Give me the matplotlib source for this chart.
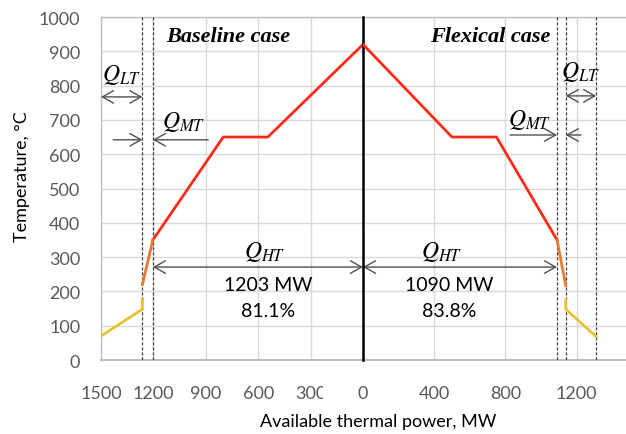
import matplotlib
matplotlib.use('Agg')
import matplotlib.pyplot as plt
from matplotlib.transforms import Bbox

plt.rcParams['font.family'] = ['Lato', 'DejaVu Sans']
plt.rcParams['mathtext.fontset'] = 'stix'

# temperature (degC) over available thermal power (MW)
base_ht_p = [0, 545, 800, 1203]
base_ht_t = [920, 650, 650, 350]
base_mt_p = [1203, 1263]
base_mt_t = [350, 220]
base_lt_p = [1263, 1263, 1500]
base_lt_t = [175, 148, 70]

flex_ht_p = [0, 500, 750, 1090]
flex_ht_t = [920, 650, 650, 350]
flex_mt_p = [1090, 1139]
flex_mt_t = [350, 217]
flex_lt_p = [1139, 1139, 1310]
flex_lt_t = [175, 148, 68]

# borders between the heat ranges
base_marks = [1203, 1263]
flex_marks = [1090, 1139, 1310]

left_ticks = [1500, 1200, 900, 600, 300]
right_ticks = [0, 400, 800, 1200]
temp_ticks = list(range(0, 1001, 100))

base_text = ['1203 MW', '81.1%']
flex_text = ['1090 MW', '83.8%']

RED = '#FF2A1A'
ORANGE = '#E8792F'
YELLOW = '#E8C230'
GRID = '#D9D9D9'
BORDER = '#BFBFBF'
TICK = '#595959'
ARROW = '#505050'

fig = plt.figure(figsize=(6.26, 4.35), dpi=100)
ax_l = fig.add_axes([101 / 626, 1 - 361 / 435, 262 / 626, 343 / 435])
ax_r = fig.add_axes([363 / 626, 1 - 361 / 435, 267 / 626, 343 / 435], sharey=ax_l)

ax_l.set_xlim(1500, 0)
ax_r.set_xlim(0, 1500)
ax_l.set_ylim(0, 1000)

for ax, ticks in ((ax_l, left_ticks), (ax_r, right_ticks)):
    ax.set_xticks(ticks)
    ax.set_yticks(temp_ticks)
    ax.grid(color=GRID, lw=1)
    ax.set_axisbelow(True)
    ax.tick_params(length=0, labelcolor=TICK, labelsize=13)
    ax.tick_params(axis='x', pad=18)
    ax.tick_params(axis='y', pad=15)
    for s in ax.spines.values():
        s.set_color(BORDER)
        s.set_linewidth(1)
    ax.spines['bottom'].set_linewidth(1.5)

ax_l.spines['right'].set_visible(False)
ax_r.spines['left'].set_visible(False)
ax_r.tick_params(axis='y', labelleft=False)

# "300" is partly covered by the "0" label in the original
for lbl in ax_l.get_xticklabels():
    if lbl.get_text() == '300':
        lbl.set_clip_on(True)
        lbl.set_clip_box(Bbox.from_extents(0, 0, 323, 435))

# zero line between the two cases (right axes is drawn on top)
ax_r.axvline(0, color='black', lw=1.8, clip_on=False, zorder=4)

for p in base_marks:
    ax_l.axvline(p, color='#404040', lw=0.9, ls=(0, (2.5, 1.5)), zorder=3)
for p in flex_marks:
    ax_r.axvline(p, color='#404040', lw=0.9, ls=(0, (2.5, 1.5)), zorder=3)

ax_l.plot(base_ht_p, base_ht_t, color=RED, lw=2, zorder=5)
ax_l.plot(base_mt_p, base_mt_t, color=ORANGE, lw=2, zorder=5)
ax_l.plot(base_lt_p, base_lt_t, color=YELLOW, lw=2, zorder=5)
ax_r.plot(flex_ht_p, flex_ht_t, color=RED, lw=2, zorder=5)
ax_r.plot(flex_mt_p, flex_mt_t, color=ORANGE, lw=2, zorder=5)
ax_r.plot(flex_lt_p, flex_lt_t, color=YELLOW, lw=2, zorder=5)


def arrow(ax, x0, x1, y, style='<->'):
    ax.annotate('', xy=(x1, y), xytext=(x0, y), annotation_clip=False,
                arrowprops=dict(arrowstyle=style + ',head_length=0.8,head_width=0.45',
                                color=ARROW, lw=1, shrinkA=0, shrinkB=0))


arrow(ax_l, 1263, 1500, 767)
arrow(ax_l, 1430, 1263, 642, '->')
arrow(ax_l, 886, 1203, 642, '->')
arrow(ax_l, 1203, 0, 271)
arrow(ax_r, 0, 1090, 271)
arrow(ax_r, 826, 1090, 656, '->')
arrow(ax_r, 1225, 1139, 656, '->')
arrow(ax_r, 1139, 1310, 770)

q_style = dict(fontsize=17, ha='center', va='center')
ax_l.text(1383, 834, r'$Q_{LT}$', **q_style)
ax_l.text(1028, 697, r'$Q_{MT}$', **q_style)
ax_l.text(560, 318, r'$Q_{HT}$', **q_style)
ax_r.text(1219, 843, r'$Q_{LT}$', **q_style)
ax_r.text(938, 703, r'$Q_{MT}$', **q_style)
ax_r.text(444, 318, r'$Q_{HT}$', **q_style)

num_style = dict(fontsize=14, ha='center', va='center')
ax_l.text(545, 219, base_text[0], **num_style)
ax_l.text(545, 143, base_text[1], **num_style)
ax_r.text(485, 219, flex_text[0], **num_style)
ax_r.text(485, 143, flex_text[1], **num_style)

case_style = dict(fontsize=16, ha='center', va='center', family='Liberation Serif',
                  weight='bold', style='italic')
ax_l.text(771, 944, 'Baseline case', **case_style)
ax_r.text(714, 944, 'Flexical case', **case_style)

fig.text(22 / 626, 1 - 177 / 435, 'Temperature, °C', rotation=90, fontsize=13,
         ha='center', va='center')
fig.text(378 / 626, 1 - 422 / 435, 'Available thermal power, MW', fontsize=13,
         ha='center', va='center')

fig.savefig('out.png', dpi=100)
